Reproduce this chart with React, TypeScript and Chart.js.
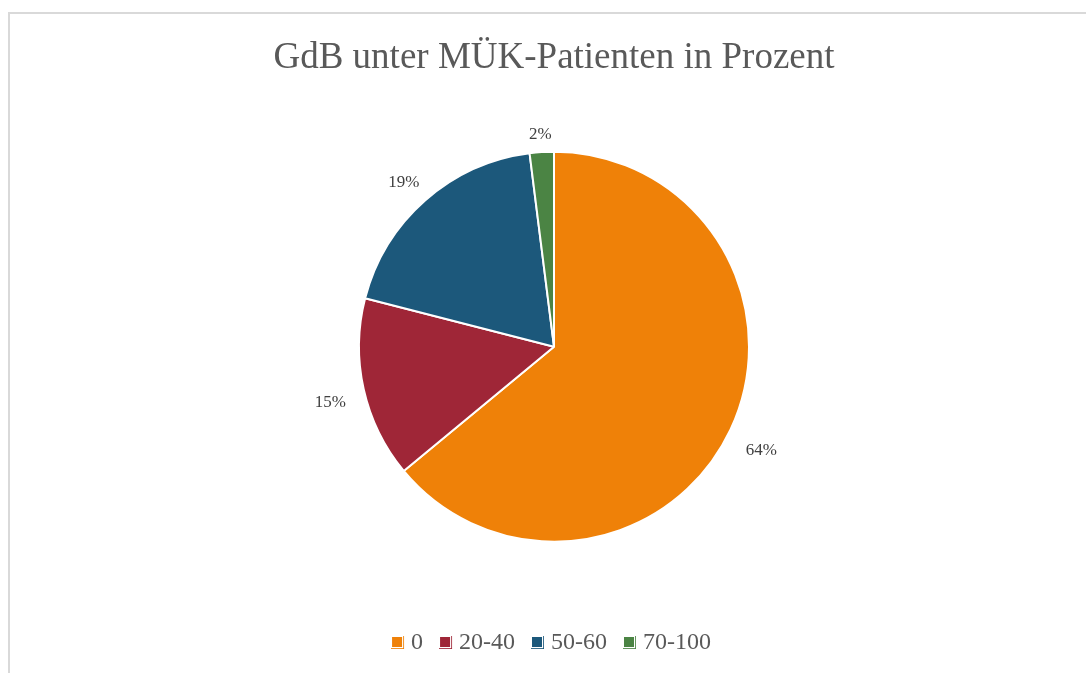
import React, { useEffect, useRef } from "react";
import { Chart, registerables } from "chart.js";

Chart.register(...registerables);

const chartTitle = "GdB unter MÜK-Patienten in Prozent";
const categories = ["0", "20-40", "50-60", "70-100"];
const shares = [64, 15, 19, 2];
const sliceColors = ["#EF8108", "#9F2637", "#1C587B", "#4B8444"];

const SERIF = "'Liberation Serif', 'Times New Roman', serif";

function makeMarker(color: string): HTMLCanvasElement {
  const c = document.createElement("canvas");
  c.width = 14;
  c.height = 14;
  const g = c.getContext("2d")!;
  g.fillStyle = color;
  g.fillRect(1, 1, 10, 10);
  g.globalAlpha = 0.85;
  g.fillRect(12, 0, 1, 13);
  g.fillRect(0, 12, 13, 1);
  return c;
}

const outsideLabels = {
  id: "outsideLabels",
  afterDatasetsDraw(chart: any) {
    const meta = chart.getDatasetMeta(0);
    const ctx = chart.ctx;
    ctx.save();
    ctx.font = `17px ${SERIF}`;
    ctx.fillStyle = "#404040";
    ctx.textAlign = "center";
    ctx.textBaseline = "middle";
    meta.data.forEach((arc: any, i: number) => {
      const { x, y, startAngle, endAngle, outerRadius } = arc.getProps(
        ["x", "y", "startAngle", "endAngle", "outerRadius"],
        true
      );
      const mid = (startAngle + endAngle) / 2;
      const text = Math.round(shares[i]) + "%";
      const w = ctx.measureText(text).width;
      const h = 10;
      const cos = Math.cos(mid);
      const sin = Math.sin(mid);
      const d = outerRadius + 18 + (Math.abs(cos) * w) / 2 + (Math.abs(sin) * h) / 2;
      ctx.fillText(text, x + cos * d, y + 6 + sin * d);
    });
    ctx.restore();
  },
};

export default function App() {
  const ref = useRef<HTMLCanvasElement | null>(null);

  useEffect(() => {
    if (!ref.current) return;
    const markers = sliceColors.map(makeMarker);
    const chart = new Chart(ref.current, {
      type: "pie",
      data: {
        labels: categories,
        datasets: [
          {
            data: shares,
            backgroundColor: sliceColors,
            borderColor: "#ffffff",
            borderWidth: 2,
          },
        ],
      },
      options: {
        animation: false,
        responsive: false,
        maintainAspectRatio: false,
        radius: 195,
        layout: { padding: { top: 0, bottom: 45, left: 0, right: 0 } },
        plugins: {
          title: {
            display: true,
            text: chartTitle,
            color: "#595959",
            font: { family: SERIF, size: 37, weight: "normal" as any, lineHeight: 1.2 },
            padding: { top: 22, bottom: 4 },
          },
          legend: {
            display: true,
            position: "bottom",
            labels: {
              usePointStyle: true,
              pointStyleWidth: 2,
              padding: 22,
              color: "#595959",
              font: { family: SERIF, size: 24 },
              generateLabels: () =>
                categories.map((c, i) => ({
                  text: c,
                  fillStyle: sliceColors[i],
                  strokeStyle: sliceColors[i],
                  lineWidth: 0,
                  pointStyle: markers[i] as any,
                  hidden: false,
                  index: i,
                  fontColor: "#595959",
                })),
            },
          },
          tooltip: { enabled: false },
        },
      } as any,
      plugins: [outsideLabels],
    });
    return () => chart.destroy();
  }, []);

  return (
    <div style={{ position: "fixed", inset: 0, overflow: "hidden", background: "#fff" }}>
      <div
        style={{
          position: "absolute",
          left: 8,
          top: 12,
          width: 1092,
          height: 700,
          border: "2px solid #d9d9d9",
          boxSizing: "border-box",
          background: "#fff",
        }}
      >
        <canvas ref={ref} width={1088} height={696} style={{ display: "block" }} />
      </div>
    </div>
  );
}
